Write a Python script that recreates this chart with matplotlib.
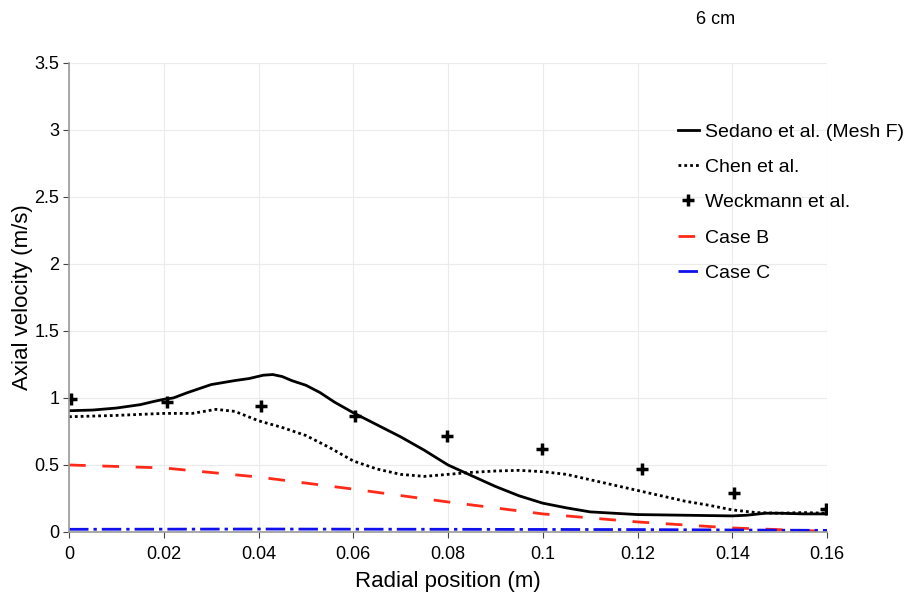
import matplotlib
matplotlib.use("Agg")
import matplotlib.pyplot as plt
from matplotlib.ticker import FuncFormatter, MultipleLocator

plt.rcParams["font.family"] = ["Liberation Sans", "DejaVu Sans"]

# Sedano et al. (Mesh F)
sedano_x = [0, 0.005, 0.01, 0.015, 0.018, 0.02, 0.022, 0.025, 0.03, 0.035, 0.038,
            0.041, 0.043, 0.045, 0.047, 0.05, 0.053, 0.056, 0.06, 0.065, 0.07,
            0.075, 0.08, 0.085, 0.09, 0.095, 0.1, 0.105, 0.11, 0.115, 0.12, 0.13,
            0.14, 0.143, 0.147, 0.15, 0.155, 0.16]
sedano_y = [0.905, 0.91, 0.925, 0.95, 0.975, 0.99, 1.0, 1.04, 1.10, 1.13, 1.145,
            1.17, 1.175, 1.16, 1.13, 1.095, 1.04, 0.97, 0.89, 0.80, 0.71,
            0.61, 0.50, 0.42, 0.34, 0.27, 0.215, 0.18, 0.15, 0.14, 0.13, 0.125,
            0.12, 0.125, 0.14, 0.14, 0.135, 0.135]

# Chen et al.
chen_x = [0, 0.01, 0.02, 0.026, 0.031, 0.035, 0.04, 0.045, 0.05, 0.055, 0.06,
          0.065, 0.07, 0.075, 0.08, 0.085, 0.09, 0.095, 0.1, 0.105, 0.11, 0.115,
          0.12, 0.125, 0.13, 0.135, 0.14, 0.145, 0.15, 0.155, 0.16]
chen_y = [0.86, 0.87, 0.885, 0.885, 0.915, 0.90, 0.83, 0.78, 0.72, 0.63, 0.53,
          0.47, 0.43, 0.415, 0.43, 0.445, 0.455, 0.46, 0.45, 0.43, 0.39, 0.35,
          0.31, 0.27, 0.23, 0.20, 0.165, 0.145, 0.14, 0.145, 0.14]

# Weckmann et al. (experiment)
weck_x = [0.0005, 0.0207, 0.0405, 0.0604, 0.0798, 0.0998, 0.121, 0.1404, 0.1598]
weck_y = [0.99, 0.97, 0.94, 0.866, 0.716, 0.62, 0.47, 0.29, 0.17]

# Case B
caseb_x = [0, 0.02, 0.04, 0.06, 0.08, 0.1, 0.12, 0.14, 0.16]
caseb_y = [0.50, 0.478, 0.41, 0.32, 0.224, 0.135, 0.075, 0.03, 0.005]

# Case C
casec_x = [0, 0.04, 0.08, 0.12, 0.16]
casec_y = [0.02, 0.022, 0.02, 0.018, 0.012]

fig = plt.figure(figsize=(9.06, 5.97), dpi=100)
ax = fig.add_axes([0.0762, 0.1089, 0.8366, 0.7856])

ax.plot(sedano_x, sedano_y, color="black", lw=2.0, label="Sedano et al. (Mesh F)")
ax.plot(chen_x, chen_y, color="black", lw=2.0, linestyle=(0, (1, 1.1)), label="Chen et al.")
ax.plot(weck_x, weck_y, linestyle="none", marker="+", color="black", ms=8, mew=2.5,
        label="Weckmann et al.")
ax.plot(caseb_x, caseb_y, color="#ff2a1a", lw=2.0, linestyle=(0, (6, 6)), label="Case B")
ax.plot(casec_x, casec_y, color="#1010ee", lw=2.0, linestyle=(0, (7, 1.8, 1.2, 1.8)),
        label="Case C")

ax.set_xlim(0, 0.16)
ax.set_ylim(0, 3.5)
ax.xaxis.set_major_locator(MultipleLocator(0.02))
ax.yaxis.set_major_locator(MultipleLocator(0.5))
ax.xaxis.set_major_formatter(FuncFormatter(lambda v, p: f"{v:g}"))
ax.yaxis.set_major_formatter(FuncFormatter(lambda v, p: f"{v:g}"))
ax.tick_params(labelsize=13, length=4, color="#444444")
ax.tick_params(axis="x", pad=6)
ax.tick_params(axis="y", pad=3)
ax.grid(color="#ebebeb", lw=0.8)
ax.set_axisbelow(True)
for s in ["top", "right"]:
    ax.spines[s].set_visible(False)
for s in ["left", "bottom"]:
    ax.spines[s].set_color("#999999")
    ax.spines[s].set_linewidth(1.2)

ax.set_xlabel("Radial position (m)", fontsize=16, labelpad=6)
ax.set_ylabel("Axial velocity (m/s)", fontsize=16, labelpad=1)

leg = ax.legend(loc="upper left", bbox_to_anchor=(0.803, 0.872), frameon=False,
                fontsize=14, handlelength=1.1, handletextpad=0.3, labelspacing=0.91,
                borderpad=0, borderaxespad=0)

fig.text(716 / 906, 1 - 20 / 597, "6 cm", fontsize=13, ha="center", va="center")

fig.savefig("out.png", dpi=100)
